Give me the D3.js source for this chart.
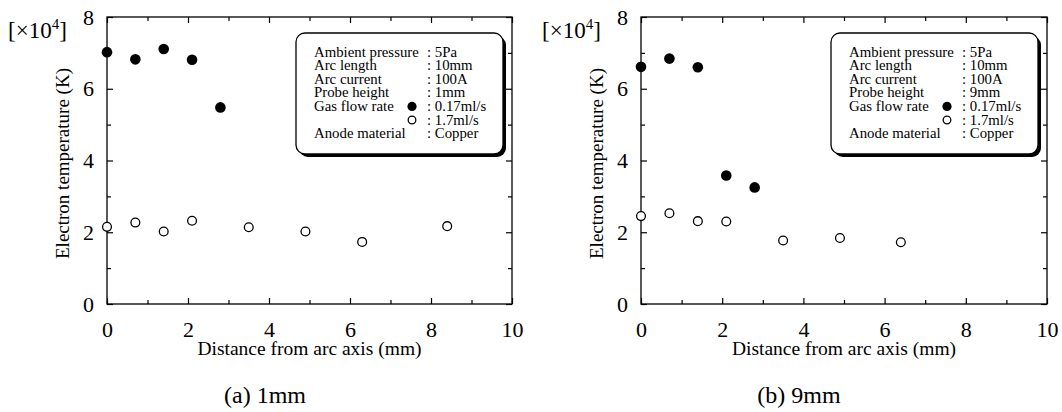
<!DOCTYPE html>
<html lang="en">
<head>
  <meta charset="UTF-8">
  <title>Electron temperature</title>
  <style>
    body, html {
      margin: 0;
      padding: 0;
      background-color: white;
    }
    text {
      font-family: "Liberation Serif", "DejaVu Serif", serif;
      fill: black;
    }
  </style>
</head>
<body>
  <svg id="svg" width="1062" height="412"></svg>
  <script src="https://d3js.org/d3.v7.min.js"></script>
  <script>
    // values, temperature in units of 10^4 K
    const distFilledA = [0, 0.7, 1.4, 2.1, 2.8]
    const tempFilledA = [7.02, 6.82, 7.11, 6.81, 5.48]
    const distOpenA = [0, 0.7, 1.4, 2.1, 3.5, 4.9, 6.3, 8.4]
    const tempOpenA = [2.15, 2.27, 2.02, 2.32, 2.14, 2.02, 1.73, 2.17]

    const distFilledB = [0, 0.7, 1.4, 2.1, 2.8]
    const tempFilledB = [6.61, 6.84, 6.60, 3.58, 3.25]
    const distOpenB = [0, 0.7, 1.4, 2.1, 3.5, 4.9, 6.4]
    const tempOpenB = [2.45, 2.53, 2.31, 2.30, 1.77, 1.84, 1.72]

    const xMajor = [0, 2, 4, 6, 8, 10]
    const xMinor = [1, 3, 5, 7, 9]
    const yMajor = [0, 2, 4, 6, 8]
    const yMinor = [1, 3, 5, 7]

    const legendLabels = ['Ambient pressure', 'Arc length', 'Arc current', 'Probe height', 'Gas flow rate', '', 'Anode material']
    const legendValuesA = [': 5Pa', ': 10mm', ': 100A', ': 1mm', ': 0.17ml/s', ': 1.7ml/s', ': Copper']
    const legendValuesB = [': 5Pa', ': 10mm', ': 100A', ': 9mm', ': 0.17ml/s', ': 1.7ml/s', ': Copper']

    const captions = ['(a) 1mm', '(b) 9mm']

    const svg = d3.select('#svg')

    function drawPanel(left, right, filledX, filledY, openX, openY, legendValues, caption) {
      const top = 17
      const bottom = 304
      const xScale = d3.scaleLinear().domain([0, 10]).range([left, right])
      const yScale = d3.scaleLinear().domain([0, 8]).range([bottom, top])
      const g = svg.append('g')

      const noDomain = sel => sel.select('.domain').remove()

      // major ticks with labels (inward)
      g.append('g')
        .attr('transform', `translate(0, ${bottom})`)
        .call(d3.axisBottom(xScale).tickValues(xMajor).tickSize(-6).tickPadding(17).tickFormat(d3.format('d')))
        .call(noDomain)
      g.append('g')
        .attr('transform', `translate(${left}, 0)`)
        .call(d3.axisLeft(yScale).tickValues(yMajor).tickSize(-6).tickPadding(13).tickFormat(d3.format('d')))
        .call(noDomain)
      // minor ticks
      g.append('g')
        .attr('transform', `translate(0, ${bottom})`)
        .call(d3.axisBottom(xScale).tickValues(xMinor).tickSize(-4).tickFormat(''))
        .call(noDomain)
      g.append('g')
        .attr('transform', `translate(${left}, 0)`)
        .call(d3.axisLeft(yScale).tickValues(yMinor).tickSize(-4).tickFormat(''))
        .call(noDomain)
      // top and right ticks
      g.append('g')
        .attr('transform', `translate(0, ${top})`)
        .call(d3.axisTop(xScale).tickValues(xMajor).tickSize(-6).tickFormat(''))
        .call(noDomain)
      g.append('g')
        .attr('transform', `translate(0, ${top})`)
        .call(d3.axisTop(xScale).tickValues(xMinor).tickSize(-4).tickFormat(''))
        .call(noDomain)
      g.append('g')
        .attr('transform', `translate(${right}, 0)`)
        .call(d3.axisRight(yScale).tickValues(yMajor).tickSize(-6).tickFormat(''))
        .call(noDomain)
      g.append('g')
        .attr('transform', `translate(${right}, 0)`)
        .call(d3.axisRight(yScale).tickValues(yMinor).tickSize(-4).tickFormat(''))
        .call(noDomain)

      g.selectAll('.tick line').attr('stroke', 'black').attr('stroke-width', 1.2)
      g.selectAll('.tick text')
        .style('font-family', '"Liberation Serif", serif')
        .style('font-size', '22px')
        .attr('fill', 'black')

      // frame
      g.append('rect')
        .attr('x', left)
        .attr('y', top)
        .attr('width', right - left)
        .attr('height', bottom - top)
        .attr('fill', 'none')
        .attr('stroke', 'black')
        .attr('stroke-width', 1.3)

      // axis titles
      g.append('text')
        .attr('transform', `translate(${left - 38}, ${(top + bottom) / 2 + 3}) rotate(-90)`)
        .attr('text-anchor', 'middle')
        .style('font-size', '19px')
        .text('Electron temperature (K)')
      g.append('text')
        .attr('x', left - 99)
        .attr('y', 38)
        .style('font-size', '23px')
        .html('[×10<tspan dy="-9" font-size="15px">4</tspan><tspan dy="9">]</tspan>')
      g.append('text')
        .attr('x', (left + right) / 2)
        .attr('y', 355)
        .attr('text-anchor', 'middle')
        .style('font-size', '19.5px')
        .text('Distance from arc axis (mm)')
      g.append('text')
        .attr('x', left + 158)
        .attr('y', 403)
        .attr('text-anchor', 'middle')
        .style('font-size', '24px')
        .text(caption)

      // data
      g.selectAll('.open')
        .data(openX)
        .enter()
        .append('circle')
        .attr('cx', d => xScale(d))
        .attr('cy', (d, i) => yScale(openY[i]))
        .attr('r', 4.4)
        .attr('fill', 'white')
        .attr('stroke', 'black')
        .attr('stroke-width', 1.3)
      g.selectAll('.filled')
        .data(filledX)
        .enter()
        .append('circle')
        .attr('cx', d => xScale(d))
        .attr('cy', (d, i) => yScale(filledY[i]))
        .attr('r', 5.3)
        .attr('fill', 'black')

      // legend box with drop shadow
      const bx = right - 216
      const by = 33
      const bw = 207
      const bh = 121
      g.append('rect')
        .attr('x', bx + 3)
        .attr('y', by + 3)
        .attr('width', bw)
        .attr('height', bh)
        .attr('rx', 9)
        .attr('fill', 'black')
      g.append('rect')
        .attr('x', bx)
        .attr('y', by)
        .attr('width', bw)
        .attr('height', bh)
        .attr('rx', 9)
        .attr('fill', 'white')
        .attr('stroke', 'black')
        .attr('stroke-width', 1.3)

      const rowY = i => by + 23.5 + i * 13.6
      g.selectAll('.lab')
        .data(legendLabels)
        .enter()
        .append('text')
        .attr('x', bx + 18)
        .attr('y', (d, i) => rowY(i))
        .style('font-size', '14.8px')
        .text(d => d)
      g.selectAll('.val')
        .data(legendValues)
        .enter()
        .append('text')
        .attr('x', bx + 131)
        .attr('y', (d, i) => rowY(i))
        .style('font-size', '14.8px')
        .text(d => d)
      g.append('circle')
        .attr('cx', bx + 116)
        .attr('cy', rowY(4) - 4.5)
        .attr('r', 4.6)
        .attr('fill', 'black')
      g.append('circle')
        .attr('cx', bx + 116)
        .attr('cy', rowY(5) - 4.5)
        .attr('r', 3.8)
        .attr('fill', 'white')
        .attr('stroke', 'black')
        .attr('stroke-width', 1.3)
    }

    drawPanel(107, 512, distFilledA, tempFilledA, distOpenA, tempOpenA, legendValuesA, captions[0])
    drawPanel(641, 1047, distFilledB, tempFilledB, distOpenB, tempOpenB, legendValuesB, captions[1])
  </script>
</body>
</html>
